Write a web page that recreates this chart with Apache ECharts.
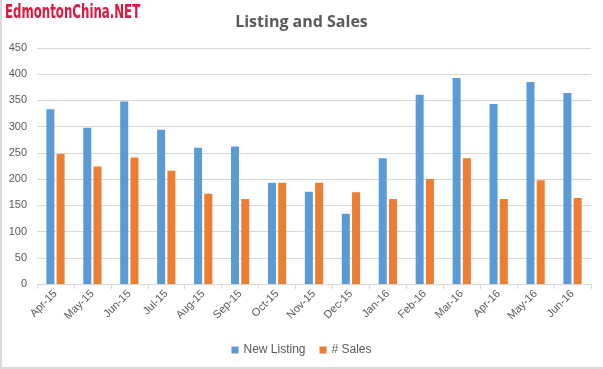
<!DOCTYPE html>
<html><head><meta charset="utf-8">
<script src="https://cdn.jsdelivr.net/npm/echarts@6/dist/echarts.min.js"></script>
<style>html,body{margin:0;padding:0;background:#fff}#c{width:603px;height:369px}#b{position:absolute;left:0;top:0;width:603px;height:369px;box-sizing:border-box;border-left:2px solid #d9d9d9;border-bottom:2px solid #d9d9d9;pointer-events:none}</style>
</head><body><div id="c"></div><div id="b"></div>
<script>
const categories = ['Apr-15','May-15','Jun-15','Jul-15','Aug-15','Sep-15','Oct-15','Nov-15','Dec-15','Jan-16','Feb-16','Mar-16','Apr-16','May-16','Jun-16'];
const newListing = [333,298,348,294,260,262,193,176,134,240,361,393,343,385,364];
const sales = [248,224,241,216,172,162,193,193,175,162,200,240,162,198,164];
const yTicks = {min:0, max:450, interval:50};
const chart = echarts.init(document.getElementById('c'));
const font = 'Liberation Sans, Noto Sans, sans-serif';
chart.setOption({
  animation:false,
  textStyle:{fontFamily:font},
  title:[
    {text:'Listing and Sales', left:'center', top:9, textStyle:{color:'#595959', fontSize:16, fontWeight:'bold', fontFamily:'Open Sans, sans-serif'}}
  ],
  graphic:[
    {type:'text', left:5, top:4, scaleX:0.62, style:{text:'EdmontonChina.NET', fill:'#e0163e', font:'bold 19px DejaVu Sans, sans-serif'}}
  ],
  legend:{bottom:8, left:'center', itemWidth:7, itemHeight:7, itemGap:14, icon:'rect', textStyle:{color:'#595959', fontSize:12}, data:['New Listing','# Sales']},
  grid:{left:37, right:12, top:48, bottom:85},
  xAxis:{type:'category', data:categories, boundaryGap:true,
    axisLine:{lineStyle:{color:'#d9d9d9'}}, axisTick:{show:true, length:5, lineStyle:{color:'#d9d9d9'}},
    axisLabel:{rotate:45, color:'#595959', fontSize:11, margin:8}},
  yAxis:{type:'value', min:yTicks.min, max:yTicks.max, interval:yTicks.interval,
    axisLine:{show:false}, axisTick:{show:false},
    axisLabel:{color:'#595959', fontSize:11, margin:10},
    splitLine:{lineStyle:{color:'#d9d9d9'}}},
  series:[
    {name:'New Listing', type:'bar', data:newListing, barWidth:8, barGap:'28%', itemStyle:{color:'#5b9bd5'}},
    {name:'# Sales', type:'bar', data:sales, barWidth:8, itemStyle:{color:'#ed7d31'}}
  ]
});
</script></body></html>
